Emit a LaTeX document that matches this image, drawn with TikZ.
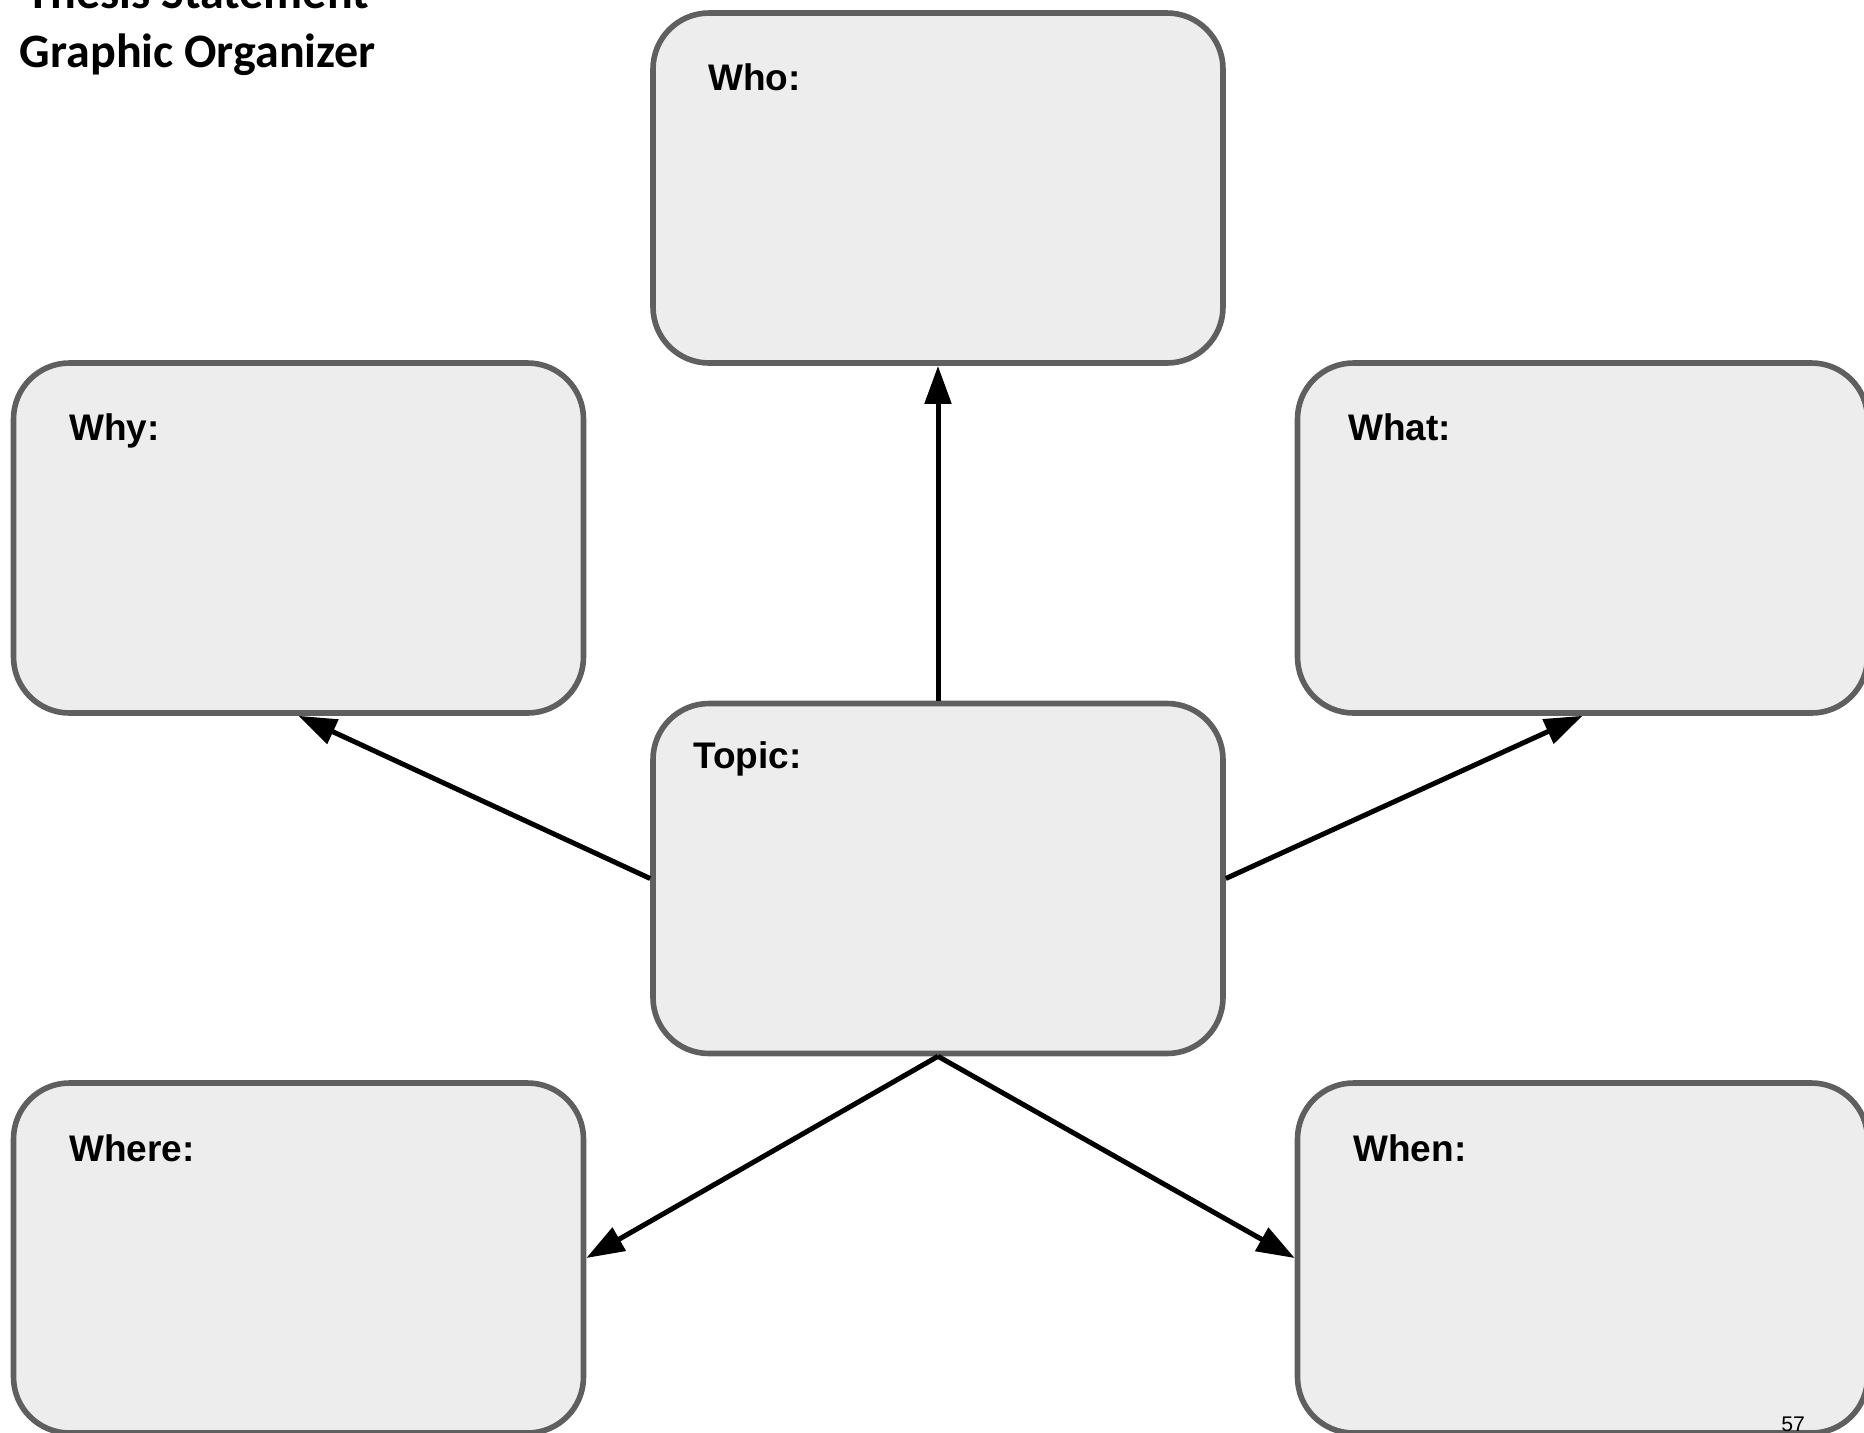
\documentclass[tikz,border=0pt]{standalone}
\usepackage{fontspec}
\setmainfont{Liberation Sans}
\newfontfamily\titlefont{Carlito}
\usetikzlibrary{arrows.meta}
\definecolor{boxline}{HTML}{5F5F5F}
\definecolor{boxfill}{HTML}{EDEDED}
\begin{document}
\begin{tikzpicture}[x=0.5pt,y=-0.5pt,
  card/.style={draw=boxline, fill=boxfill, line width=2.8pt, rounded corners=28pt,
    minimum width=285pt, minimum height=175pt, inner sep=0pt, rectangle},
  lbl/.style={anchor=base west, inner sep=0pt, font=\fontsize{18.5}{22}\selectfont\bfseries},
  conn/.style={draw=black, line width=2.5pt, -{Triangle[length=19pt,width=13pt]}},
  ttl/.style={anchor=base, inner sep=0pt, align=center, font=\titlefont\fontsize{24}{29.3}\selectfont\bfseries}]
\useasboundingbox (0,0) rectangle (1864,1432);
\node[card] (who) at (938,188) {};
\node[card] (why) at (298.5,538) {};
\node[card] (what) at (1582.5,538) {};
\node[card] (topic) at (938,878.5) {};
\node[card] (where) at (298.5,1258) {};
\node[card] (when) at (1582.5,1258) {};
\node[lbl] (whoT) at (708,90) {Who:};
\node[lbl] (whyT) at (69,440) {Why:};
\node[lbl] (whatT) at (1348,440) {What:};
\node[lbl] (topicT) at (693,768) {Topic:};
\node[lbl] (whereT) at (69,1161) {Where:};
\node[lbl] (whenT) at (1353,1161) {When:};
\node[ttl] (title) at (198,67) {Thesis Statement\\Graphic Organizer};
\node[anchor=base west, inner sep=0pt, font=\fontsize{10.6}{12}\selectfont] (page) at (1781,1431) {57};
\draw[conn] (topic.north) -- (who.south);
\draw[conn] (topic.west) -- (why.south);
\draw[conn] (topic.east) -- (what.south);
\draw[conn] (topic.south) -- (where.east);
\draw[conn] (topic.south) -- (when.west);
\end{tikzpicture}
\end{document}
